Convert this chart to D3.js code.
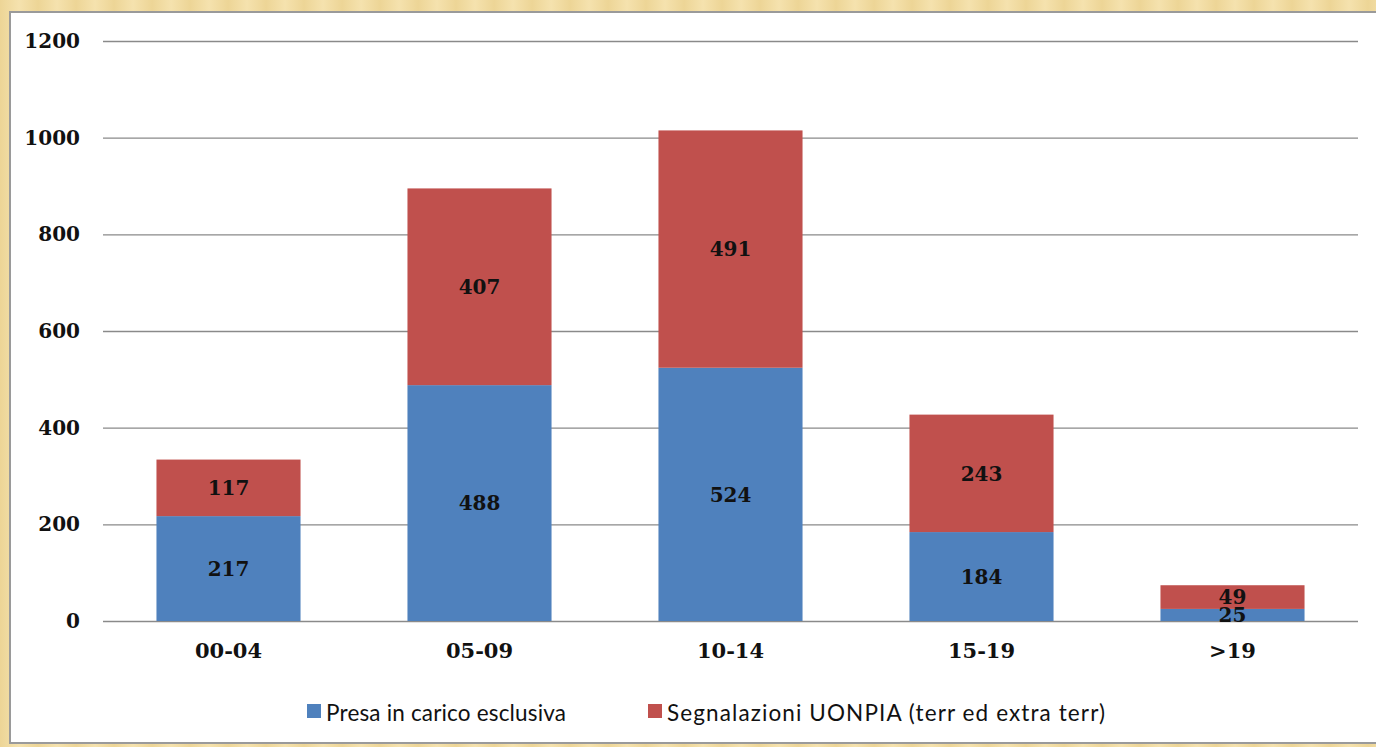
<!DOCTYPE html>
<html>
<head>
<meta charset="utf-8">
<script src="https://cdn.jsdelivr.net/npm/d3@7"></script>
<style>
html,body{margin:0;padding:0;background:#f0da9f;}
svg{display:block;}
</style>
</head>
<body>
<svg id="chart" width="1376" height="747"></svg>
<script>
const categories = ["00-04", "05-09", "10-14", "15-19", ">19"];
const presaValues = [217, 488, 524, 184, 25];
const segnalazioniValues = [117, 407, 491, 243, 49];
const yTicks = [0, 200, 400, 600, 800, 1000, 1200];
const seriesNames = ["Presa in carico esclusiva", "Segnalazioni UONPIA (terr ed extra terr)"];
const seriesColors = ["#4f81bd", "#c0504d"];

const svg = d3.select("#chart");
const W = 1376, H = 747;

// background with subtle vertical stripes
const defs = svg.append("defs");
const grad = defs.append("linearGradient").attr("id","bgstripe")
  .attr("x1","0").attr("y1","0").attr("y2","0")
  .attr("spreadMethod","repeat").attr("gradientUnits","userSpaceOnUse")
  .attr("x2", 38);
grad.append("stop").attr("offset","0%").attr("stop-color","#edd596");
grad.append("stop").attr("offset","50%").attr("stop-color","#f5e2ae");
grad.append("stop").attr("offset","100%").attr("stop-color","#edd596");
svg.append("rect").attr("width",W).attr("height",H).attr("fill","url(#bgstripe)");

// white chart area
svg.append("rect").attr("x",10).attr("y",12).attr("width",W).attr("height",731)
  .attr("fill","#ffffff").attr("stroke","#9a9a9a").attr("stroke-width",2);

const x = d3.scaleBand().domain(categories).range([103,1358])
  .paddingInner(0.426).paddingOuter(0.213);
const y = d3.scaleLinear().domain([0,1200]).range([621,41]);

// gridlines + y axis labels
const yAxis = d3.axisLeft(y).tickValues(yTicks).tickSize(-(1358-103)).tickPadding(23).tickFormat(d3.format("d"));
const gy = svg.append("g").attr("transform","translate(103,0)").call(yAxis);
gy.select(".domain").remove();
gy.selectAll(".tick line").attr("stroke","#8a8a8a").attr("stroke-width",1.4);
gy.selectAll(".tick text").attr("fill","#111").attr("font-family","'DejaVu Serif', serif")
  .attr("font-weight","bold").attr("font-size","20px");

// x axis labels
const xAxis = d3.axisBottom(x).tickSize(0).tickPadding(22);
const gx = svg.append("g").attr("transform","translate(0,621)").call(xAxis);
gx.select(".domain").remove();
gx.selectAll(".tick text").attr("fill","#111").attr("font-family","'DejaVu Serif', serif")
  .attr("font-weight","bold").attr("font-size","21px");

// stacked data
const rows = categories.map((c,i)=>({cat:c, presa:presaValues[i], segn:segnalazioniValues[i]}));
const stack = d3.stack().keys(["presa","segn"]);
const stacked = stack(rows);

const layers = svg.append("g").selectAll("g").data(stacked).join("g")
  .attr("fill",(d,i)=>seriesColors[i]);
layers.selectAll("rect").data(d=>d).join("rect")
  .attr("x",d=>x(d.data.cat))
  .attr("width",x.bandwidth())
  .attr("y",d=>y(d[1]))
  .attr("height",d=>y(d[0])-y(d[1]));

// data labels
const labels = svg.append("g");
stacked.forEach((layer)=>{
  layer.forEach(d=>{
    labels.append("text")
      .attr("x", x(d.data.cat)+x.bandwidth()/2)
      .attr("y", y((d[0]+d[1])/2))
      .attr("dy","0.36em")
      .attr("text-anchor","middle")
      .attr("font-family","'DejaVu Serif', serif")
      .attr("font-weight","bold")
      .attr("font-size","20px")
      .attr("fill","#111")
      .text(d[1]-d[0]);
  });
});

// legend
const legendLayout = [{x:307, w:240}, {x:648, w:438}];
const lg = svg.append("g");
seriesNames.forEach((name,i)=>{
  const lx = legendLayout[i].x;
  lg.append("rect").attr("x",lx).attr("y",704).attr("width",14).attr("height",14).attr("fill",seriesColors[i]);
  lg.append("text").attr("x",lx+19).attr("y",713).attr("dy","0.36em")
    .attr("font-family","Lato, 'Open Sans', sans-serif").attr("font-size","22.5px")
    .attr("textLength", legendLayout[i].w).attr("lengthAdjust","spacing")
    .attr("fill","#111").text(name);
});
</script>
</body>
</html>
